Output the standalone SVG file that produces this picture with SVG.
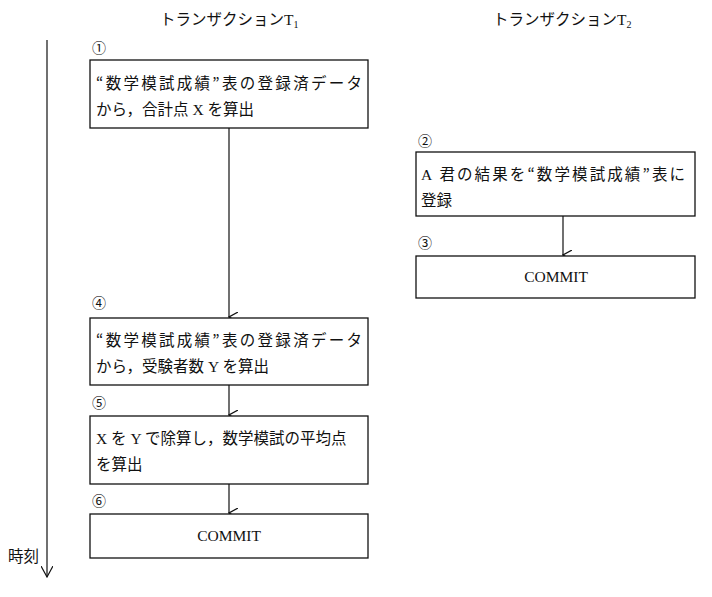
<svg xmlns="http://www.w3.org/2000/svg" width="712" height="597" viewBox="0 0 712 597">
<style>
text{font-family:"Liberation Serif","Noto Sans CJK JP",serif;font-size:15.5px;fill:#111}
.q{font-family:"Noto Sans CJK JP",sans-serif}
.b{fill:#fff;stroke:#111;stroke-width:1.3}
.l{stroke:#111;stroke-width:1.2;fill:none}
.n{font-size:14px}
</style>
<defs><marker id="a" markerWidth="10" markerHeight="10" refX="5" refY="9" orient="auto" markerUnits="userSpaceOnUse"><path d="M0,0 L5,9 L10,0" class="l"/></marker>
<marker id="a2" markerWidth="12" markerHeight="12" refX="6" refY="11" orient="0" markerUnits="userSpaceOnUse"><path d="M0,0 L6,11 L12,0" class="l"/></marker></defs>
<rect width="712" height="597" fill="#fff"/>
<text x="160" y="25">トランザクションT<tspan font-size="10" dy="3">1</tspan></text>
<text x="493" y="25">トランザクションT<tspan font-size="10" dy="3">2</tspan></text>
<g id="time"><line x1="47" y1="40" x2="47" y2="577" class="l" marker-end="url(#a2)"/><text x="8" y="562">時刻</text></g>
<g id="connectors">
<line x1="229" y1="128" x2="229" y2="317" class="l" marker-end="url(#a)"/>
<line x1="229" y1="385" x2="229" y2="415" class="l" marker-end="url(#a)"/>
<line x1="229" y1="484" x2="229" y2="513" class="l" marker-end="url(#a)"/>
<line x1="563" y1="216" x2="563" y2="255" class="l" marker-end="url(#a)"/>
</g>
<g id="n1"><text x="92" y="53" class="n">①</text><rect x="90" y="60" width="278" height="68" class="b"/><text x="96" y="89" textLength="266" lengthAdjust="spacing"><tspan class="q">“</tspan>数学模試成績<tspan class="q">”</tspan>表の登録済データ</text><text x="96" y="115">から，合計点 X を算出</text></g>
<g id="n4"><text x="92" y="308" class="n">④</text><rect x="90" y="318" width="278" height="67" class="b"/><text x="96" y="346" textLength="266" lengthAdjust="spacing"><tspan class="q">“</tspan>数学模試成績<tspan class="q">”</tspan>表の登録済データ</text><text x="96" y="372">から，受験者数 Y を算出</text></g>
<g id="n5"><text x="92" y="408" class="n">⑤</text><rect x="90" y="416" width="278" height="68" class="b"/><text x="96" y="444">X を Y で除算し，数学模試の平均点</text><text x="96" y="470">を算出</text></g>
<g id="n6"><text x="92" y="506" class="n">⑥</text><rect x="90" y="514" width="278" height="44" class="b"/><text x="229" y="541" text-anchor="middle">COMMIT</text></g>
<g id="n2"><text x="418" y="146" class="n">②</text><rect x="416" y="152" width="279" height="64" class="b"/><text x="421" y="180" textLength="264" lengthAdjust="spacing">A 君の結果を<tspan class="q">“</tspan>数学模試成績<tspan class="q">”</tspan>表に</text><text x="421" y="206">登録</text></g>
<g id="n3"><text x="418" y="248" class="n">③</text><rect x="416" y="256" width="279" height="42" class="b"/><text x="556" y="282" text-anchor="middle">COMMIT</text></g>
</svg>
